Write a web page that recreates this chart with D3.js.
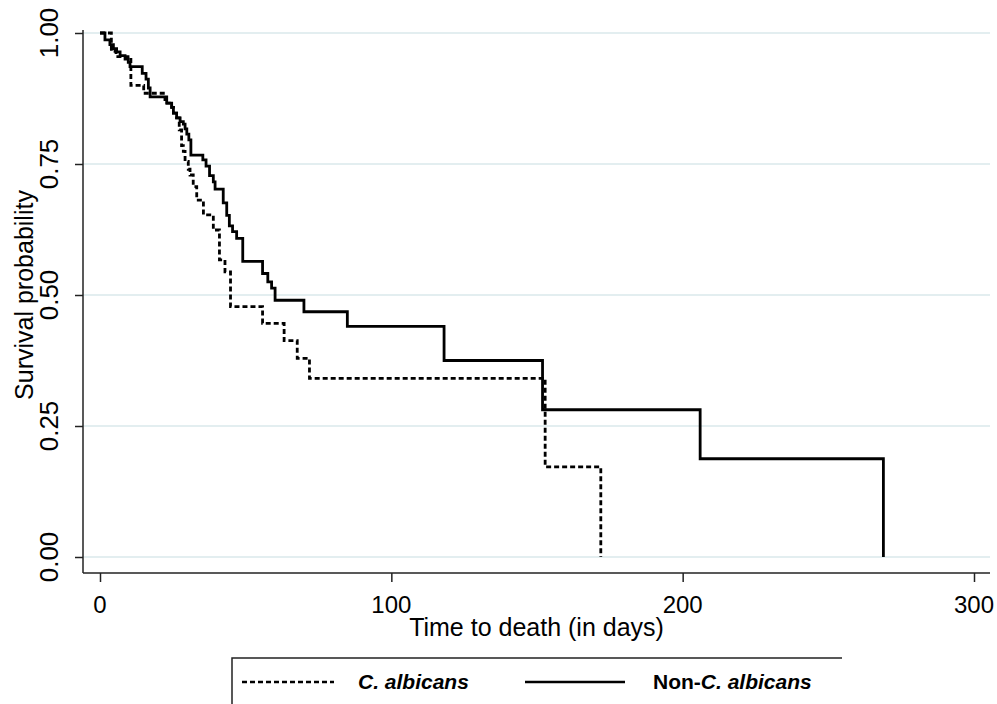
<!DOCTYPE html>
<html lang="en">
<head>
<meta charset="UTF-8">
<title>Kaplan-Meier survival</title>
<script src="https://d3js.org/d3.v7.min.js"></script>
<style>
  body { margin: 0; background: #fff; }
  text { font-family: "Liberation Sans", Arial, sans-serif; fill: #000; }
</style>
</head>
<body>
<svg width="997" height="704"></svg>
<script>
// time (days) at which survival drops, survival after the drop
const albicansTimes = [0, 3.9, 5.5, 10.6, 15, 22.3, 24.6, 25.2, 26.3, 27.2, 28, 28.6, 29.2, 30.3, 30.9, 32, 33.2, 35.5, 38.9, 41, 42.9, 44.8, 55.8, 63.2, 67.7, 71.9, 152.8, 171.9];
const albicansSurv  = [1, 0.965, 0.955, 0.9, 0.885, 0.866, 0.858, 0.847, 0.838, 0.815, 0.785, 0.774, 0.755, 0.74, 0.729, 0.707, 0.681, 0.653, 0.624, 0.567, 0.544, 0.478, 0.446, 0.413, 0.379, 0.341, 0.172, 0];

const nonAlbicansTimes = [0, 1.7, 3.4, 4.6, 5.7, 6.9, 8.6, 9.7, 10.3, 14.5, 15.8, 16.6, 17.2, 22.9, 24.6, 25.2, 26.3, 27.5, 28.6, 29.2, 29.8, 30.5, 31.2, 35.3, 36.4, 37.6, 38.9, 39.5, 42.3, 43.5, 44.4, 45.5, 46.9, 49, 55.8, 57.6, 58.9, 60.1, 70, 84.9, 118.1, 151.9, 206, 268.9];
const nonAlbicansSurv  = [1, 0.987, 0.978, 0.97, 0.964, 0.957, 0.95, 0.944, 0.936, 0.923, 0.912, 0.895, 0.878, 0.866, 0.858, 0.847, 0.838, 0.831, 0.826, 0.817, 0.807, 0.796, 0.767, 0.758, 0.746, 0.728, 0.716, 0.702, 0.676, 0.652, 0.632, 0.621, 0.608, 0.564, 0.541, 0.525, 0.513, 0.49, 0.468, 0.44, 0.375, 0.281, 0.1875, 0];

const xTicks = [0, 100, 200, 300];
const yTicks = [0, 0.25, 0.5, 0.75, 1];

const svg = d3.select("svg");

const x = d3.scaleLinear().domain([0, 300]).range([100, 974]);
const y = d3.scaleLinear().domain([0, 1]).range([557, 33]);

const axisLeft = 83, axisBottom = 573, plotRight = 990;

// grid lines
svg.append("g").selectAll("line")
    .data(yTicks)
    .join("line")
    .attr("x1", axisLeft).attr("x2", plotRight)
    .attr("y1", d => y(d)).attr("y2", d => y(d))
    .attr("stroke", "#e3eef0")
    .attr("stroke-width", 2);

// y axis
const gy = svg.append("g")
    .attr("transform", `translate(${axisLeft},0)`)
    .call(d3.axisLeft(y).tickValues(yTicks).tickSize(8).tickFormat(""));
gy.select(".domain").attr("d", `M0,30V${axisBottom}`);
gy.selectAll("line, path").attr("stroke", "#222").attr("stroke-width", 1.5);

svg.append("g").selectAll("text")
    .data(yTicks)
    .join("text")
    .attr("transform", d => `translate(58,${y(d)}) rotate(-90)`)
    .attr("text-anchor", "middle")
    .attr("font-size", 26)
    .text(d3.format(".2f"));

// x axis
const gx = svg.append("g")
    .attr("transform", `translate(0,${axisBottom})`)
    .call(d3.axisBottom(x).tickValues(xTicks).tickSize(9).tickFormat(""));
gx.select(".domain").attr("d", `M${axisLeft},0H${plotRight}`);
gx.selectAll("line, path").attr("stroke", "#222").attr("stroke-width", 1.5);

svg.append("g").selectAll("text")
    .data(xTicks)
    .join("text")
    .attr("x", d => x(d))
    .attr("y", 613)
    .attr("text-anchor", "middle")
    .attr("font-size", 24)
    .text(d => d);

// axis titles
svg.append("text")
    .attr("x", (axisLeft + plotRight) / 2)
    .attr("y", 636)
    .attr("text-anchor", "middle")
    .attr("font-size", 25)
    .text("Time to death (in days)");

svg.append("text")
    .attr("transform", "translate(33,295) rotate(-90)")
    .attr("text-anchor", "middle")
    .attr("font-size", 25)
    .text("Survival probability");

// survival curves
const line = d3.line()
    .x(d => x(d[0]))
    .y(d => y(d[1]))
    .curve(d3.curveStepAfter);

const albicans = albicansTimes.map((t, i) => [t, albicansSurv[i]]);
const nonAlbicans = nonAlbicansTimes.map((t, i) => [t, nonAlbicansSurv[i]]);

svg.append("path")
    .datum(nonAlbicans)
    .attr("d", line)
    .attr("fill", "none")
    .attr("stroke", "#000")
    .attr("stroke-width", 2.8);

svg.append("path")
    .datum(albicans)
    .attr("d", line)
    .attr("fill", "none")
    .attr("stroke", "#000")
    .attr("stroke-width", 2.8)
    .attr("stroke-dasharray", "5,3");

// legend
svg.append("path")
    .attr("d", "M232,712V658H842")
    .attr("fill", "none")
    .attr("stroke", "#222")
    .attr("stroke-width", 1.5);

svg.append("line")
    .attr("x1", 242).attr("x2", 334).attr("y1", 682).attr("y2", 682)
    .attr("stroke", "#000").attr("stroke-width", 2.4)
    .attr("stroke-dasharray", "5,3");

svg.append("line")
    .attr("x1", 525).attr("x2", 625).attr("y1", 682).attr("y2", 682)
    .attr("stroke", "#000").attr("stroke-width", 2.4);

svg.append("text")
    .attr("x", 358).attr("y", 689)
    .attr("font-size", 21)
    .attr("font-weight", "bold")
    .attr("font-style", "italic")
    .text("C. albicans");

const t2 = svg.append("text")
    .attr("x", 653).attr("y", 689)
    .attr("font-size", 21)
    .attr("font-weight", "bold");
t2.append("tspan").text("Non-");
t2.append("tspan").attr("font-style", "italic").text("C. albicans");
</script>
</body>
</html>
